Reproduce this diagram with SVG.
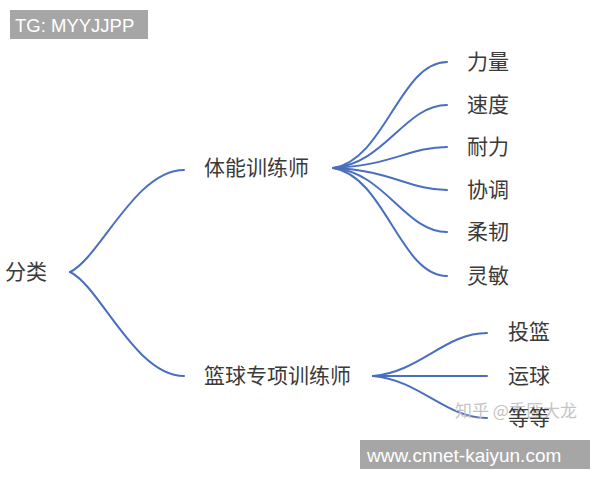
<svg xmlns="http://www.w3.org/2000/svg" width="600" height="480" viewBox="0 0 600 480">
<style>
.t{font-family:"Noto Sans CJK SC","Noto Sans",sans-serif;font-size:21px;fill:#3a3a3a;dominant-baseline:central}
.c{fill:none;stroke:#4a6fbf;stroke-width:2;stroke-linecap:round}
.badge{fill:#a6a6a6}
.bt{font-family:"Liberation Sans",Arial,sans-serif;fill:#fff}
.wm{font-family:"Noto Sans CJK SC",sans-serif;font-size:17px;fill:#c4c4c4;dominant-baseline:central}
</style>
<rect width="600" height="480" fill="#fff"/>
<g id="connectors">
<path class="c" d="M70,272 C100,258 135,170 184,170"/>
<path class="c" d="M70,272 C100,286 135,376 184,376"/>
<path class="c" d="M333,168 C385,160 400,62 447,62"/>
<path class="c" d="M333,168 C385,164 405,105 447,105"/>
<path class="c" d="M333,168 C390,166 410,147 447,147"/>
<path class="c" d="M333,168 C390,170 410,190 447,190"/>
<path class="c" d="M333,168 C385,172 405,232 447,232"/>
<path class="c" d="M333,168 C385,176 400,276 447,276"/>
<path class="c" d="M373,376 C420,372 445,333 487,333"/>
<path class="c" d="M373,376 L487,376"/>
<path class="c" d="M373,376 C420,380 445,418 487,418"/>
</g>
<g id="n-root"><text class="t" x="5" y="270">分类</text></g>
<g id="n-tineng"><text class="t" x="204" y="166">体能训练师</text></g>
<g id="n-lanqiu"><text class="t" x="204" y="374">篮球专项训练师</text></g>
<g id="n-liliang"><text class="t" x="467" y="60">力量</text></g>
<g id="n-sudu"><text class="t" x="467" y="103">速度</text></g>
<g id="n-naili"><text class="t" x="467" y="145">耐力</text></g>
<g id="n-xietiao"><text class="t" x="467" y="188">协调</text></g>
<g id="n-rouren"><text class="t" x="467" y="230">柔韧</text></g>
<g id="n-lingmin"><text class="t" x="467" y="274">灵敏</text></g>
<g id="n-toulan"><text class="t" x="508" y="330">投篮</text></g>
<g id="n-yunqiu"><text class="t" x="508" y="374">运球</text></g>
<text class="wm" x="455" y="409">知乎 @季匪大龙</text>
<g id="n-dengdeng"><text class="t" x="508" y="416">等等</text></g>
<g id="badge-tg">
<rect class="badge" x="10" y="10" width="138" height="29"/>
<text class="bt" x="15" y="32" font-size="18.5">TG: MYYJJPP</text>
</g>
<g id="badge-url">
<rect class="badge" x="360" y="440" width="230" height="29"/>
<text class="bt" x="367" y="462" font-size="19">www.cnnet-kaiyun.com</text>
</g>
</svg>
